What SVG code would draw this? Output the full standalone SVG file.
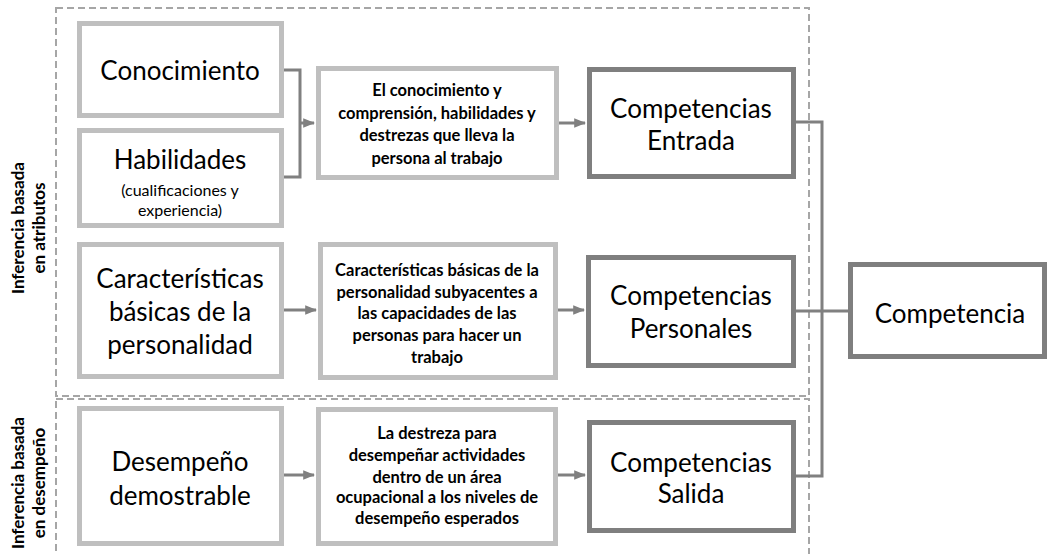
<svg xmlns="http://www.w3.org/2000/svg" width="1048" height="554" viewBox="0 0 1048 554">
<defs>
<style>
.lt{fill:#fff;stroke:#bfbfbf;stroke-width:5}
.dk{fill:#fff;stroke:#7f7f7f;stroke-width:5}
.dash{fill:none;stroke:#a6a6a6;stroke-width:2;stroke-dasharray:7,4}
.c{fill:none;stroke:#808080;stroke-width:3}
.t{font-family:Lato,"Open Sans",sans-serif;fill:#000;text-anchor:middle;dominant-baseline:central}
.big{font-size:26px}
.sm{font-size:16.5px;font-weight:bold}
.lab{font-size:17px;font-weight:bold}
</style>
<marker id="ah" viewBox="0 0 10 10" refX="9" refY="5" markerWidth="4" markerHeight="4" orient="auto" markerUnits="strokeWidth">
<path d="M0,1 L10,5 L0,9 Z" fill="#808080"/>
</marker>
</defs>
<rect width="1048" height="554" fill="#fff"/>
<rect class="dash" x="56" y="8" width="753" height="388"/>
<rect class="dash" x="56" y="399" width="753" height="170"/>
<g id="lab1"><text class="t lab" transform="translate(17,228) rotate(-90)">Inferencia basada</text><text class="t lab" transform="translate(38,228) rotate(-90)">en atributos</text></g>
<g id="lab2"><text class="t lab" transform="translate(17,483) rotate(-90)">Inferencia basada</text><text class="t lab" transform="translate(38,483) rotate(-90)">en desempeño</text></g>
<g id="connectors">
<path class="c" d="M283,70 H300 V177 H283"/>
<path class="c" d="M300,123 H314" marker-end="url(#ah)"/>
<path class="c" d="M558,123 H585" marker-end="url(#ah)"/>
<path class="c" d="M283,310 H316" marker-end="url(#ah)"/>
<path class="c" d="M557,310 H584" marker-end="url(#ah)"/>
<path class="c" d="M283,475 H314" marker-end="url(#ah)"/>
<path class="c" d="M557,475 H585" marker-end="url(#ah)"/>
<path class="c" d="M795,122 H822 V476 H795"/>
<path class="c" d="M796,311 H848"/>
</g>
<g id="conocimiento"><rect class="lt" x="79.5" y="23.5" width="202" height="92"/><text class="t big" x="180" y="70">Conocimiento</text></g>
<g id="habilidades"><rect class="lt" x="79.5" y="130.5" width="202" height="95"/><text class="t big" x="180" y="159">Habilidades</text><text class="t" style="font-size:16px" x="180" y="189">(cualificaciones y</text><text class="t" style="font-size:16px" x="180" y="209">experiencia)</text></g>
<g id="caracteristicas"><rect class="lt" x="79.5" y="244.5" width="202" height="132"/><text class="t big" x="180" y="278">Características</text><text class="t big" x="180" y="311">básicas de la</text><text class="t big" x="180" y="344">personalidad</text></g>
<g id="desempeno"><rect class="lt" x="79.5" y="408.5" width="202" height="135"/><text class="t big" x="180" y="461">Desempeño</text><text class="t big" x="180" y="495">demostrable</text></g>
<g id="desc1"><rect class="lt" x="318.5" y="68.5" width="238" height="109"/><text class="t sm" x="437" y="90">El conocimiento y</text><text class="t sm" x="437" y="113">comprensión, habilidades y</text><text class="t sm" x="437" y="135">destrezas que lleva la</text><text class="t sm" x="437" y="158">persona al trabajo</text></g>
<g id="desc2"><rect class="lt" x="320.5" y="244.5" width="235" height="133"/><text class="t sm" x="437" y="270">Características básicas de la</text><text class="t sm" x="437" y="292">personalidad subyacentes a</text><text class="t sm" x="437" y="313">las capacidades de las</text><text class="t sm" x="437" y="335">personas para hacer un</text><text class="t sm" x="437" y="357">trabajo</text></g>
<g id="desc3"><rect class="lt" x="318.5" y="409.5" width="237" height="134"/><text class="t sm" x="437" y="433">La destreza para</text><text class="t sm" x="437" y="455">desempeñar actividades</text><text class="t sm" x="437" y="477">dentro de un área</text><text class="t sm" x="437" y="497">ocupacional a los niveles de</text><text class="t sm" x="437" y="518">desempeño esperados</text></g>
<g id="entrada"><rect class="dk" x="589.5" y="69.5" width="204" height="107"/><text class="t big" x="691" y="108">Competencias</text><text class="t big" x="691" y="140">Entrada</text></g>
<g id="personales"><rect class="dk" x="588.5" y="257.5" width="205" height="108"/><text class="t big" x="691" y="295">Competencias</text><text class="t big" x="691" y="328">Personales</text></g>
<g id="salida"><rect class="dk" x="589.5" y="422.5" width="204" height="108"/><text class="t big" x="691" y="462">Competencias</text><text class="t big" x="691" y="493">Salida</text></g>
<g id="competencia"><rect class="dk" x="850.5" y="264.5" width="194" height="92"/><text class="t big" x="950" y="313">Competencia</text></g>
</svg>
